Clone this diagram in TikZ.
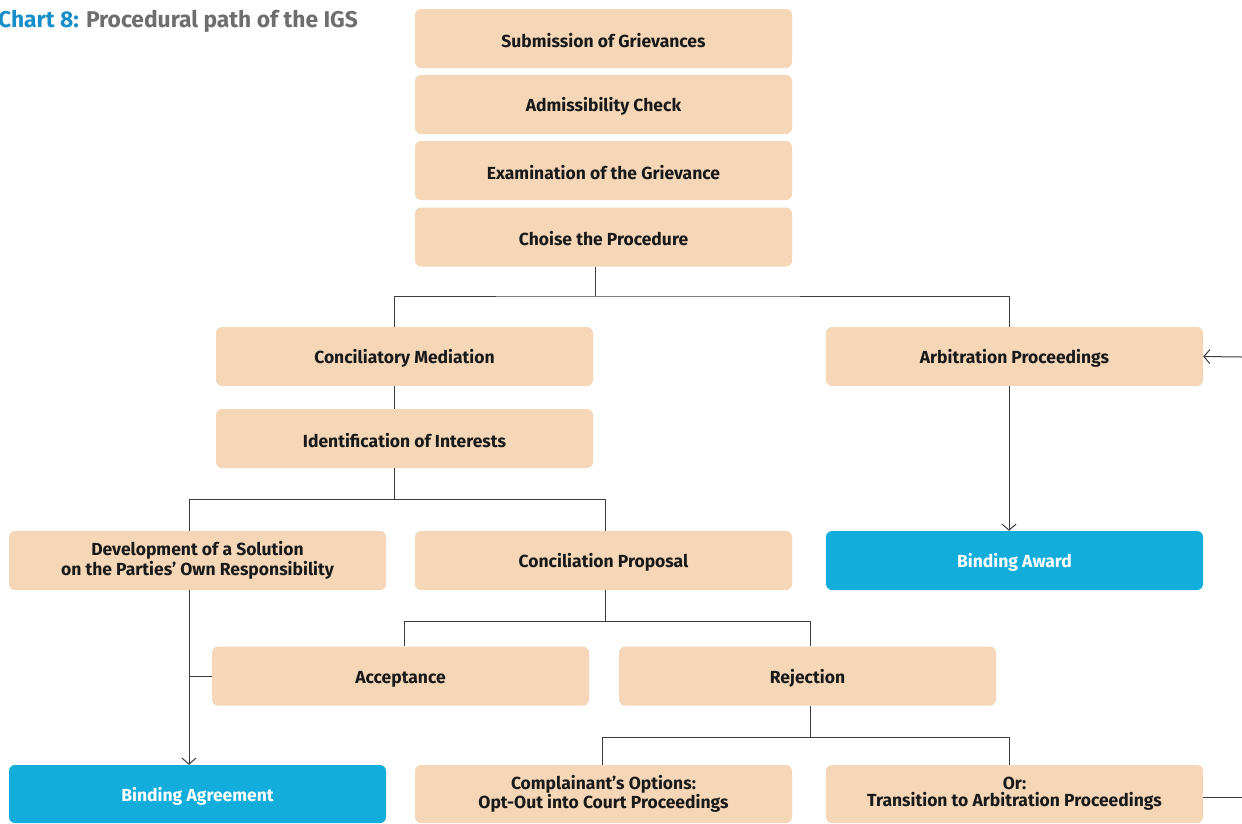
\documentclass[tikz,border=0pt]{standalone}
\usepackage{fontspec}
\setmainfont{Fira Sans}
\usetikzlibrary{arrows.meta}
\definecolor{peach}{RGB}{245,215,184}
\definecolor{igsblue}{RGB}{18,173,219}
\definecolor{titleblue}{RGB}{22,142,200}
\definecolor{titlegray}{RGB}{110,110,110}
\definecolor{linegray}{RGB}{60,60,60}
\tikzset{
  pbox/.style={fill=peach, rounded corners=6pt, minimum width=377pt, minimum height=59pt,
    inner sep=0pt, align=center, font=\fontsize{17.5}{20.5}\selectfont\bfseries, text=black!90,
    execute at begin node={\rule{0pt}{18pt}}},
  bbox/.style={pbox, fill=igsblue, text=white},
  conn/.style={draw=linegray, line width=1pt},
  arr/.style={conn, -{Straight Barb[length=6pt,width=14pt,line width=1pt]}}
}
\begin{document}
\begin{tikzpicture}[x=1pt,y=-1pt]
\useasboundingbox (0,0) rectangle (1242,823);
\fill[white] (0,0) rectangle (1242,823);
\node[anchor=base west, inner sep=0pt, font=\fontsize{22.8}{24}\selectfont\bfseries] (title) at (-2,27)
  {\textcolor{titleblue}{Chart 8:} \textcolor{titlegray}{Procedural path of the IGS}};
% column 1 top
\node[pbox] (sub) at (603.5,38.5) {Submission of Grievances};
\node[pbox] (adm) at (603.5,104.5) {Admissibility Check};
\node[pbox] (exa) at (603.5,170.5) {Examination of the Grievance};
\node[pbox] (cho) at (603.5,237) {Choise the Procedure};
% level 2
\node[pbox] (cm) at (404.5,356.5) {Conciliatory Mediation};
\node[pbox] (arb) at (1014.5,356.5) {Arbitration Proceedings};
\node[pbox] (idi) at (404.5,438.5) {Identification of Interests};
% level 3
\node[pbox] (dev) at (197.5,560.5) {Development of a Solution\\on the Parties’ Own Responsibility};
\node[pbox] (cp) at (603.5,560.5) {Conciliation Proposal};
\node[bbox] (baw) at (1014.5,560.5) {Binding Award};
% level 4
\node[pbox] (acc) at (400.5,676) {Acceptance};
\node[pbox] (rej) at (807.5,676) {Rejection};
% level 5
\node[bbox, minimum height=58pt] (bag) at (197.5,794) {Binding Agreement};
\node[pbox, minimum height=58pt, font=\fontsize{17.5}{17}\selectfont\bfseries] (com) at (603.5,794) {Complainant’s Options:\\Opt-Out into Court Proceedings};
\node[pbox, minimum height=58pt, font=\fontsize{17.5}{17}\selectfont\bfseries] (orr) at (1014.5,794) {Or:\\Transition to Arbitration Proceedings};
% junctions
\coordinate (j1) at (595,296);
\coordinate (j1l) at (394,296);
\coordinate (j1r) at (1009,296);
\coordinate (j2) at (394,499);
\coordinate (j2l) at (189,499);
\coordinate (j2r) at (605,499);
\coordinate (j3) at (605,621);
\coordinate (j3l) at (404,621);
\coordinate (j3r) at (810,621);
\coordinate (j4) at (810,737);
\coordinate (j4l) at (602,737);
\coordinate (j4r) at (1009,737);
\coordinate (eR) at (1242,357);
\coordinate (eR2) at (1242,797);
% connectors
\draw[conn] (cho.south -| j1) -- (j1);
\draw[conn] (cm.north -| j1l) |- (j1) -| (arb.north -| j1r);
\draw[conn] (cm.south -| j1l) -- (idi.north -| j1l);
\draw[conn] (idi.south -| j2) -- (j2);
\draw[conn] (dev.north -| j2l) |- (j2) -| (cp.north -| j2r);
\draw[arr] (arb.south -| j1r) -- (baw.north -| j1r);
\draw[arr] (eR) -- (arb.east);
\draw[conn] (cp.south -| j3) -- (j3);
\draw[conn] (acc.north -| j3l) |- (j3) -| (rej.north -| j3r);
\draw[arr] (dev.south -| j2l) -- (bag.north -| j2l);
\draw[conn] (acc.west) -- (acc.west -| j2l);
\draw[conn] (rej.south -| j4) -- (j4);
\draw[conn] (com.north -| j4l) |- (j4) -| (orr.north -| j4r);
\draw[conn] (orr.east |- eR2) -- (eR2);
\end{tikzpicture}
\end{document}
